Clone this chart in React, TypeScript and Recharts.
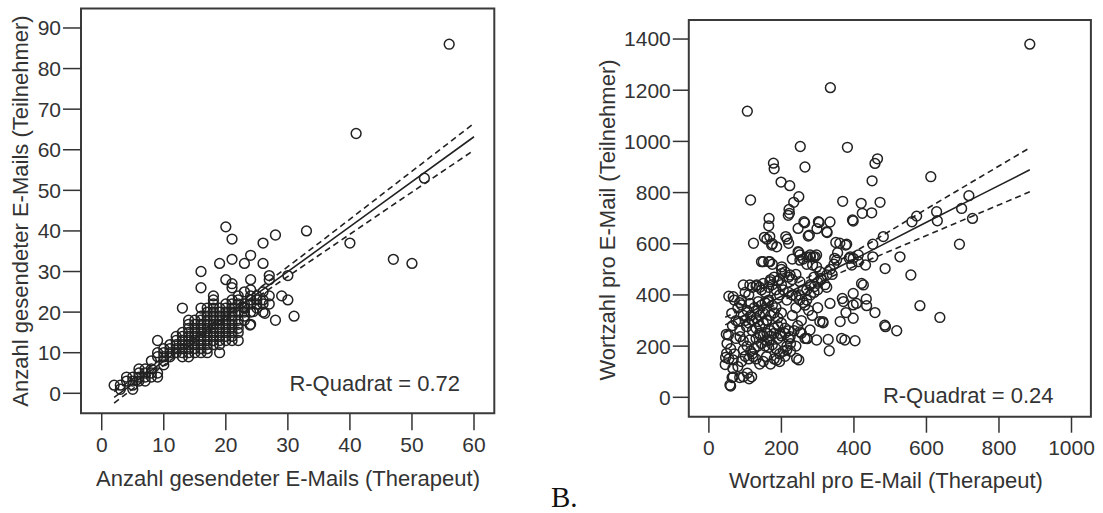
import { ScatterChart, Scatter, XAxis, YAxis, ReferenceArea } from "recharts";

const FONT = '"Liberation Sans", Arial, sans-serif';
const INK = "#222";
const GREY = "#333";

// A: Anzahl gesendeter E-Mails
const mailXTicks = [0, 10, 20, 30, 40, 50, 60];
const mailYTicks = [0, 10, 20, 30, 40, 50, 60, 70, 80, 90];
const mailPoints: [number, number][] = [
  [56, 86], [41, 64], [52, 53], [40, 37], [47, 33], [50, 32], [33, 40], [28, 39], [20, 41], [21, 38],
  [26, 37], [24, 34], [21, 33], [19, 32], [23, 32], [26, 32], [16, 30], [30, 29], [27, 29], [20, 28],
  [24, 28], [27, 28], [16, 26], [21, 27], [21, 26], [26, 25], [29, 24], [30, 23], [27, 22], [25, 22],
  [31, 19], [28, 18], [24, 17], [13, 21], [19, 10], [9, 13], [9, 4], [2, 2], [3, 1], [5, 1],
  [8, 8], [21, 13], [19, 13], [9, 5], [3, 2], [4, 3], [4, 4], [5, 2], [5, 3], [5, 4],
  [6, 3], [6, 5], [6, 6], [7, 3], [7, 4], [7, 5], [7, 6], [8, 5], [8, 6], [9, 9],
  [9, 10], [10, 8], [10, 9], [10, 10], [10, 11], [11, 9], [11, 11], [11, 12], [12, 10], [12, 11],
  [12, 12], [12, 13], [12, 14], [13, 10], [13, 11], [13, 12], [13, 13], [13, 14], [13, 15], [14, 9],
  [14, 10], [14, 11], [14, 12], [14, 13], [14, 14], [14, 15], [14, 16], [14, 17], [14, 18], [15, 10],
  [15, 11], [15, 12], [15, 13], [15, 14], [15, 15], [15, 16], [15, 17], [15, 18], [16, 11], [16, 12],
  [16, 13], [16, 14], [16, 15], [16, 16], [16, 17], [16, 18], [16, 19], [16, 21], [17, 11], [17, 12],
  [17, 13], [17, 14], [17, 15], [17, 16], [17, 17], [17, 18], [17, 19], [17, 20], [17, 21], [18, 12],
  [18, 13], [18, 14], [18, 15], [18, 16], [18, 17], [18, 18], [18, 19], [18, 20], [18, 21], [18, 22],
  [18, 23], [18, 24], [19, 14], [19, 15], [19, 16], [19, 17], [19, 18], [19, 19], [19, 20], [19, 21],
  [20, 13], [20, 15], [20, 16], [20, 17], [20, 18], [20, 19], [20, 20], [20, 21], [20, 22], [21, 14],
  [21, 15], [21, 16], [21, 17], [21, 18], [21, 19], [21, 20], [21, 21], [21, 22], [21, 23], [22, 15],
  [22, 17], [22, 18], [22, 20], [22, 22], [22, 23], [23, 18], [23, 19], [23, 20], [23, 21], [23, 22],
  [23, 25], [24, 20], [24, 22], [24, 23], [24, 24], [25, 21], [25, 23], [25, 24], [26, 22], [26, 23],
  [27, 24], [22, 13], [22, 16], [20, 14], [19, 12], [17, 10], [16, 10], [13, 9], [11, 10], [10, 7],
  [8, 4], [6, 4], [22, 24], [23, 21], [26, 20], [24, 25.5], [22.9, 21.3], [24.4, 20.1], [26.3, 19.7], [23.9, 16.8],
];
const mailFitX = [2, 10, 17, 25, 35, 45, 60];
const mailFit = [-1.0, 7.9, 15.6, 24.5, 35.5, 46.6, 63.2];
const mailUpper = [0.4, 8.9, 16.3, 25.4, 37.0, 48.8, 66.5];
const mailLower = [-2.4, 6.9, 14.9, 23.6, 34.0, 44.4, 59.9];

// Wortzahl pro E-Mail
const wordXTicks = [0, 200, 400, 600, 800, 1000];
const wordYTicks = [0, 200, 400, 600, 800, 1000, 1200, 1400];
const wordPoints: [number, number][] = [
  [885, 1380], [335, 1210], [106, 1118], [252, 980], [382, 977], [265, 900], [178, 915], [180, 893], [465, 932], [458, 914],
  [450, 846], [612, 862], [199, 841], [223, 827], [115, 771], [248, 784], [234, 762], [369, 766], [420, 758], [472, 762],
  [449, 721], [221, 734], [222, 719], [219, 711], [166, 699], [165, 670], [423, 719], [398, 689], [264, 682], [304, 683],
  [334, 685], [246, 660], [277, 634], [298, 659], [326, 644], [123, 602], [216, 618], [160, 618], [187, 588], [220, 602],
  [248, 566], [350, 605], [380, 598], [355, 565], [390, 549], [481, 628], [452, 598], [452, 549], [573, 708], [560, 686],
  [628, 725], [630, 690], [697, 738], [717, 788], [727, 699], [691, 598], [527, 549], [486, 503], [557, 478], [582, 358],
  [637, 312], [487, 276], [518, 260], [403, 221], [366, 230], [375, 224], [332, 182], [329, 226], [271, 229], [248, 146],
  [106, 94], [60, 44], [64, 77], [85, 77], [111, 72], [48, 246], [46, 156], [45, 128], [66, 113], [421, 445],
  [426, 439], [434, 384], [407, 367], [435, 358], [458, 331], [398, 309], [378, 331], [334, 367], [371, 374], [368, 386],
  [398, 361], [362, 296], [314, 296], [315, 291], [280, 549], [297, 510], [309, 465], [325, 430], [291, 433], [432, 517],
  [387, 543], [398, 406], [485, 282], [347, 543], [361, 602], [377, 595], [352, 536], [398, 543], [412, 556], [412, 530],
  [394, 517], [150, 530], [168, 530], [201, 510], [286, 517], [270, 549], [153, 625], [168, 628], [212, 628], [173, 595],
  [246, 569], [251, 536], [288, 549], [297, 556], [274, 630], [262, 686], [396, 693], [302, 686], [325, 647], [201, 484],
  [224, 478], [251, 452], [279, 556], [293, 549], [306, 491], [325, 478], [251, 556], [67, 393], [95, 439], [113, 439],
  [132, 439], [150, 445], [168, 452], [63, 328], [90, 361], [113, 367], [136, 374], [164, 374], [81, 296], [104, 276],
  [136, 296], [159, 302], [54, 243], [86, 237], [113, 224], [141, 243], [168, 224], [196, 250], [224, 237], [251, 256],
  [279, 263], [306, 296], [270, 230], [297, 224], [49, 172], [67, 146], [95, 185], [122, 159], [159, 159], [187, 146],
  [215, 185], [242, 152], [67, 80], [95, 80], [118, 80], [58, 48], [120, 260], [130, 270], [140, 280], [150, 290],
  [160, 250], [170, 260], [180, 270], [190, 280], [200, 290], [210, 270], [220, 260], [130, 230], [140, 250], [150, 240],
  [160, 220], [170, 240], [180, 250], [190, 230], [200, 240], [210, 250], [220, 230], [120, 300], [130, 310], [140, 320],
  [150, 330], [160, 300], [170, 320], [180, 330], [190, 310], [200, 330], [125, 350], [135, 340], [145, 360], [155, 370],
  [165, 380], [175, 360], [185, 350], [195, 400], [205, 420], [215, 380], [145, 420], [155, 410], [165, 430], [175, 440],
  [185, 420], [195, 460], [110, 400], [100, 410], [90, 380], [80, 350], [100, 300], [110, 290], [95, 220], [105, 200],
  [115, 180], [125, 190], [135, 200], [145, 210], [155, 200], [165, 195], [175, 205], [185, 190], [195, 170], [205, 180],
  [215, 200], [225, 210], [235, 260], [245, 280], [255, 300], [230, 320], [240, 350], [250, 400], [260, 420], [270, 380],
  [280, 400], [290, 410], [300, 420], [310, 460], [320, 440], [340, 480], [335, 500], [345, 520], [300, 350], [285, 320],
  [275, 340], [265, 360], [255, 250], [265, 230], [240, 200], [225, 180], [210, 160], [195, 140], [180, 150], [170, 130],
  [150, 140], [140, 130], [130, 150], [120, 170], [110, 150], [100, 160], [90, 140], [80, 120], [70, 170], [60, 190],
  [55, 150], [50, 210], [75, 230], [85, 260], [65, 280], [75, 300], [95, 320], [105, 340], [115, 320], [55, 395],
  [70, 380], [85, 370], [120, 430], [130, 435], [140, 430], [170, 460], [180, 470], [190, 455], [200, 440], [220, 410],
  [230, 400], [240, 395], [250, 380], [260, 370], [270, 420], [280, 440], [290, 470], [300, 450], [175, 520], [165, 530],
  [145, 530], [175, 600], [200, 500], [210, 490], [220, 470], [230, 460], [240, 480], [230, 540], [260, 540], [270, 520],
];
const wordFitX = [45, 150, 250, 350, 450, 600, 750, 885];
const wordFit = [283, 359, 431, 503, 575, 684, 792, 889];
const wordUpper = [313, 381, 451, 527, 608, 736, 862, 975];
const wordLower = [253, 337, 411, 479, 542, 632, 722, 803];

const toPts = (pairs: [number, number][]) => pairs.map(([x, y]) => ({ x, y }));
const toLine = (xs: number[], ys: number[]) => xs.map((x, i) => ({ x, y: ys[i] }));

const Ring = (props: any) => (
  <circle cx={props.cx} cy={props.cy} r={4.9} fill="none" stroke={INK} strokeWidth={1.5} />
);
const NoMark = () => <g />;

interface PanelProps {
  width: number;
  height: number;
  margin: { top: number; right: number; bottom: number; left: number };
  xDomain: [number, number];
  yDomain: [number, number];
  xTicks: number[];
  yTicks: number[];
  xTickSize: number;
  yTickSize: number;
  points: [number, number][];
  fitX: number[];
  fit: number[];
  upper: number[];
  lower: number[];
  xTitle: string;
  yTitle: string;
  xTitlePos: [number, number];
  yTitlePos: [number, number];
  rText: string;
  rPos: [number, number];
}

function Panel(p: PanelProps) {
  const tick = { fill: GREY, fontSize: 21, fontFamily: FONT };
  const tickLine = { stroke: GREY, strokeWidth: 1.5 };
  return (
    <ScatterChart width={p.width} height={p.height} margin={p.margin} style={{ fontFamily: FONT }}>
      <XAxis
        type="number"
        dataKey="x"
        domain={p.xDomain}
        ticks={p.xTicks}
        interval={0}
        allowDataOverflow
        axisLine={false}
        tickLine={tickLine}
        tickSize={p.xTickSize}
        tickMargin={7}
        tick={tick}
        height={60}
        label={() => (
          <text x={p.xTitlePos[0]} y={p.xTitlePos[1]} textAnchor="middle" fontSize={22} fill={GREY} fontFamily={FONT}>
            {p.xTitle}
          </text>
        )}
      />
      <YAxis
        type="number"
        dataKey="y"
        domain={p.yDomain}
        ticks={p.yTicks}
        interval={0}
        allowDataOverflow
        axisLine={false}
        tickLine={tickLine}
        tickSize={p.yTickSize}
        tickMargin={2}
        tick={tick}
        width={60}
        label={() => (
          <text
            x={p.yTitlePos[0]}
            y={p.yTitlePos[1]}
            transform={`rotate(-90, ${p.yTitlePos[0]}, ${p.yTitlePos[1]})`}
            textAnchor="middle"
            dominantBaseline="central"
            fontSize={22}
            fill={GREY}
            fontFamily={FONT}
          >
            {p.yTitle}
          </text>
        )}
      />
      <ReferenceArea
        x1={p.xDomain[0]}
        x2={p.xDomain[1]}
        y1={p.yDomain[0]}
        y2={p.yDomain[1]}
        fill="none"
        fillOpacity={0}
        stroke="#3a3a3a"
        strokeWidth={2}
        label={() => (
          <text x={p.rPos[0]} y={p.rPos[1]} textAnchor="end" fontSize={22} fill={GREY} fontFamily={FONT}>
            {p.rText}
          </text>
        )}
      />
      <Scatter data={toPts(p.points)} shape={Ring} isAnimationActive={false} legendType="none" />
      <Scatter data={toLine(p.fitX, p.fit)} line={{ stroke: INK, strokeWidth: 1.6 }} shape={NoMark} isAnimationActive={false} legendType="none" />
      <Scatter data={toLine(p.fitX, p.upper)} line={{ stroke: INK, strokeWidth: 1.6, strokeDasharray: "6 4" }} shape={NoMark} isAnimationActive={false} legendType="none" />
      <Scatter data={toLine(p.fitX, p.lower)} line={{ stroke: INK, strokeWidth: 1.6, strokeDasharray: "6 4" }} shape={NoMark} isAnimationActive={false} legendType="none" />
    </ScatterChart>
  );
}

export default function App() {
  return (
    <div style={{ position: "absolute", left: 0, top: 0, width: 1103, height: 513, background: "#fff" }}>
      <div style={{ position: "absolute", left: 0, top: 0 }}>
        <Panel
          width={550}
          height={513}
          margin={{ top: 8.5, right: 55.7, bottom: 39.7, left: 21 }}
          xDomain={[-3.34, 63.27]}
          yDomain={[-4.93, 94.8]}
          xTicks={mailXTicks}
          yTicks={mailYTicks}
          xTickSize={17}
          yTickSize={18}
          points={mailPoints}
          fitX={mailFitX}
          fit={mailFit}
          upper={mailUpper}
          lower={mailLower}
          xTitle="Anzahl gesendeter E-Mails (Therapeut)"
          yTitle="Anzahl gesendeter E-Mails (Teilnehmer)"
          xTitlePos={[288, 486]}
          yTitlePos={[20, 211]}
          rText="R-Quadrat = 0.72"
          rPos={[460, 391]}
        />
      </div>
      <div style={{ position: "absolute", left: 550, top: 0 }}>
        <Panel
          width={553}
          height={513}
          margin={{ top: 20, right: 12.1, bottom: 36.3, left: 78.8 }}
          xDomain={[-55.4, 1053.5]}
          yDomain={[-75.8, 1474.4]}
          xTicks={wordXTicks}
          yTicks={wordYTicks}
          xTickSize={16}
          yTickSize={16}
          points={wordPoints}
          fitX={wordFitX}
          fit={wordFit}
          upper={wordUpper}
          lower={wordLower}
          xTitle="Wortzahl pro E-Mail (Therapeut)"
          yTitle="Wortzahl pro E-Mail (Teilnehmer)"
          xTitlePos={[336, 488]}
          yTitlePos={[57, 220]}
          rText="R-Quadrat = 0.24"
          rPos={[503.5, 403]}
        />
      </div>
      <svg width={60} height={40} style={{ position: "absolute", left: 545, top: 473 }}>
        <text x={6} y={33.5} fontSize={29} fill="#111" fontFamily='"Liberation Serif", "Times New Roman", serif'>
          B.
        </text>
      </svg>
    </div>
  );
}
